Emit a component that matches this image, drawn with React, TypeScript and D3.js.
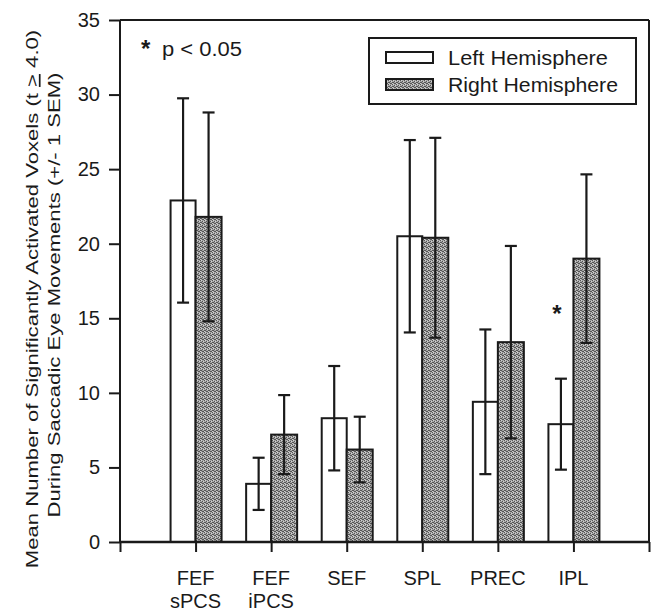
import React, { useEffect, useRef } from 'react';
import * as d3 from 'd3';

// regions on the x axis (one or two text lines each)
const regions = [['FEF', 'sPCS'], ['FEF', 'iPCS'], ['SEF'], ['SPL'], ['PREC'], ['IPL']];
const leftMean = [22.9, 3.9, 8.3, 20.5, 9.4, 7.9];
const leftSem = [6.85, 1.75, 3.5, 6.45, 4.85, 3.05];
const rightMean = [21.8, 7.2, 6.2, 20.4, 13.4, 19.0];
const rightSem = [7.0, 2.65, 2.2, 6.7, 6.45, 5.65];
const significant = [false, false, false, false, false, true];
const yTicks = [0, 5, 10, 15, 20, 25, 30, 35];
const legendLabels = ['Left Hemisphere', 'Right Hemisphere'];

const FONT = '"Liberation Sans", Arial, Helvetica, sans-serif';
const INK = '#1a1a1a';

const App = () => {
  const svgRef = useRef<SVGSVGElement | null>(null);

  useEffect(() => {
    if (!svgRef.current) return;
    const svg = d3.select(svgRef.current);
    svg.selectAll('*').remove();

    const left = 120;
    const right = 649;
    const top = 20;
    const bottom = 542;
    const barW = 25;

    const x = d3.scaleLinear().domain([0, regions.length + 1]).range([left, right]);
    const y = d3.scaleLinear().domain([0, 35]).range([bottom, top]);

    // stipple fill for the right hemisphere bars
    const defs = svg.append('defs');
    const pat = defs.append('pattern')
      .attr('id', 'stipple')
      .attr('patternUnits', 'userSpaceOnUse')
      .attr('width', 4)
      .attr('height', 4);
    pat.append('rect').attr('width', 4).attr('height', 4).attr('fill', '#a6a6a6');
    [[0, 0], [2, 1], [1, 2], [3, 3], [2, 3], [0, 2]].forEach(([px, py]) => {
      pat.append('rect').attr('x', px).attr('y', py).attr('width', 1).attr('height', 1).attr('fill', '#555555');
    });
    [[1, 0], [3, 1], [0, 3]].forEach(([px, py]) => {
      pat.append('rect').attr('x', px).attr('y', py).attr('width', 1).attr('height', 1).attr('fill', '#d0d0d0');
    });

    const g = svg.append('g');

    // frame
    const frame = g.append('g').attr('stroke', INK).attr('stroke-width', 2);
    frame.append('line').attr('x1', left).attr('x2', right).attr('y1', top).attr('y2', top);
    frame.append('line').attr('x1', right).attr('x2', right).attr('y1', top).attr('y2', bottom);
    frame.append('line').attr('x1', left).attr('x2', left).attr('y1', top).attr('y2', bottom);

    // y axis ticks + labels
    const yAxis = d3.axisLeft(y).tickValues(yTicks).tickSize(11).tickPadding(9).tickFormat(d3.format('d'));
    const yg = g.append('g').attr('transform', `translate(${left},0)`).call(yAxis);
    yg.select('.domain').remove();
    yg.selectAll('line').attr('stroke', INK).attr('stroke-width', 2);
    yg.selectAll('text').attr('font-family', FONT).attr('font-size', 20).attr('fill', INK);

    // x axis ticks
    const xAxis = d3.axisBottom(x).tickValues(d3.range(0, regions.length + 2)).tickSize(10).tickFormat(() => '');
    const xg = g.append('g').attr('transform', `translate(0,${bottom})`).call(xAxis);
    xg.select('.domain').remove();
    xg.selectAll('line').attr('stroke', INK).attr('stroke-width', 2);

    // x labels
    regions.forEach((lines, i) => {
      const t = g.append('text')
        .attr('x', x(i + 1))
        .attr('y', 585)
        .attr('text-anchor', 'middle')
        .attr('font-family', FONT)
        .attr('font-size', 20)
        .attr('fill', INK);
      lines.forEach((l, k) => {
        t.append('tspan').attr('x', x(i + 1)).attr('dy', k === 0 ? 0 : 23).text(l);
      });
    });

    const errBar = (cx: number, m: number, s: number) => {
      const e = g.append('g').attr('stroke', INK).attr('stroke-width', 2.2);
      e.append('line').attr('x1', cx).attr('x2', cx).attr('y1', y(m + s)).attr('y2', y(m - s));
      e.append('line').attr('x1', cx - 6).attr('x2', cx + 6).attr('y1', y(m + s)).attr('y2', y(m + s));
      e.append('line').attr('x1', cx - 6).attr('x2', cx + 6).attr('y1', y(m - s)).attr('y2', y(m - s));
    };

    regions.forEach((_, i) => {
      const c = x(i + 1);
      // left hemisphere (open bar)
      g.append('rect')
        .attr('x', c - barW).attr('y', y(leftMean[i]))
        .attr('width', barW).attr('height', y(0) - y(leftMean[i]))
        .attr('fill', '#ffffff').attr('stroke', INK).attr('stroke-width', 2);
      // right hemisphere (stippled bar)
      g.append('rect')
        .attr('x', c).attr('y', y(rightMean[i]))
        .attr('width', barW + 1).attr('height', y(0) - y(rightMean[i]))
        .attr('fill', 'url(#stipple)').attr('stroke', INK).attr('stroke-width', 2);
    });
    regions.forEach((_, i) => {
      const c = x(i + 1);
      errBar(c - barW / 2, leftMean[i], leftSem[i]);
      errBar(c + barW / 2 + 0.5, rightMean[i], rightSem[i]);
      if (significant[i]) {
        g.append('text')
          .attr('x', c - barW / 2 - 4)
          .attr('y', y(leftMean[i] + leftSem[i]) - 57)
          .attr('text-anchor', 'middle')
          .attr('font-family', FONT)
          .attr('font-size', 24)
          .attr('font-weight', 'bold')
          .attr('fill', INK)
          .text('*');
      }
    });

    // bottom axis line over bars
    g.append('line')
      .attr('x1', left).attr('x2', right)
      .attr('y1', bottom).attr('y2', bottom)
      .attr('stroke', INK).attr('stroke-width', 2.5);

    // significance note
    g.append('text')
      .attr('x', 141).attr('y', 57)
      .attr('font-family', FONT).attr('font-size', 24).attr('font-weight', 'bold').attr('fill', INK)
      .text('*');
    g.append('text')
      .attr('x', 162).attr('y', 56)
      .attr('font-family', FONT).attr('font-size', 20).attr('fill', INK)
      .attr('textLength', 80).attr('lengthAdjust', 'spacingAndGlyphs')
      .text('p < 0.05');

    // legend
    const lg = g.append('g');
    lg.append('rect')
      .attr('x', 369).attr('y', 38).attr('width', 267).attr('height', 66)
      .attr('fill', '#ffffff').attr('stroke', INK).attr('stroke-width', 2);
    const legendWidths = [160, 170];
    legendLabels.forEach((lab, i) => {
      lg.append('rect')
        .attr('x', 386).attr('y', 52 + i * 27).attr('width', 47).attr('height', 11)
        .attr('fill', i === 0 ? '#ffffff' : 'url(#stipple)')
        .attr('stroke', INK).attr('stroke-width', 2);
      lg.append('text')
        .attr('x', 448).attr('y', 65 + i * 27)
        .attr('font-family', FONT).attr('font-size', 20).attr('fill', INK)
        .attr('textLength', legendWidths[i]).attr('lengthAdjust', 'spacingAndGlyphs')
        .text(lab);
    });

    // y axis title, two rotated lines, stretched along the text direction
    const yl = g.append('text')
      .attr('transform', 'translate(38,299) rotate(-90) scale(1.3,1)')
      .attr('text-anchor', 'middle')
      .attr('font-family', FONT).attr('font-size', 17).attr('fill', INK);
    yl.append('tspan').text('Mean Number of Significantly Activated Voxels (t ');
    yl.append('tspan').attr('text-decoration', 'underline').text('>');
    yl.append('tspan').text(' 4.0)');
    g.append('text')
      .attr('transform', 'translate(60,295) rotate(-90) scale(1.3,1)')
      .attr('text-anchor', 'middle')
      .attr('font-family', FONT).attr('font-size', 17).attr('fill', INK)
      .text('During Saccadic Eye Movements (+/- 1 SEM)');
  }, []);

  return (
    <svg
      ref={svgRef}
      width={651}
      height={611}
      style={{ position: 'absolute', left: 0, top: 0, background: '#ffffff' }}
    />
  );
};

export default App;
